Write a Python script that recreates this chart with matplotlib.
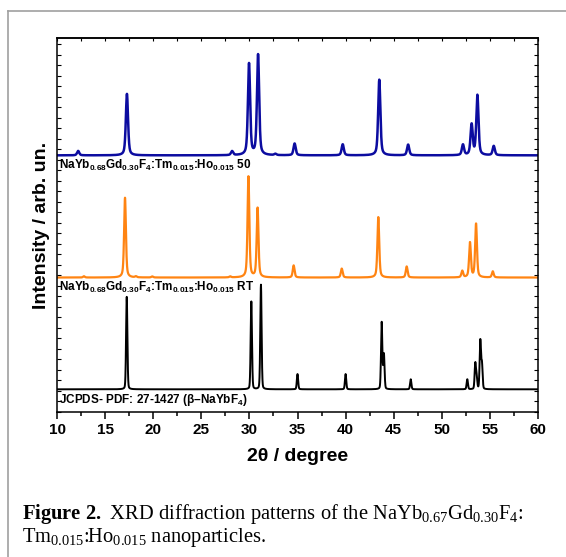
import numpy as np
import matplotlib.pyplot as plt
from matplotlib.lines import Line2D
from matplotlib.ticker import MultipleLocator

plt.rcParams['font.family'] = 'Liberation Sans'
plt.rcParams['font.weight'] = 'bold'
plt.rcParams['mathtext.fontset'] = 'custom'
plt.rcParams['mathtext.rm'] = 'Liberation Serif:normal'
plt.rcParams['mathtext.bf'] = 'Liberation Serif:bold'
plt.rcParams['mathtext.sf'] = 'Liberation Sans:bold'

# peak positions (2theta) and heights (arb. units) for each pattern
ref_pos = [17.25, 30.2, 31.2, 35.0, 40.0, 43.75, 43.98, 46.77, 52.65, 53.48, 53.62, 54.0, 54.17]
ref_int = [8.8, 8.35, 9.95, 1.45, 1.45, 6.35, 3.3, 0.95, 0.95, 2.4, 1.1, 4.6, 2.4]

rt_pos = [12.8, 17.07, 18.2, 19.9, 28.0, 29.9, 30.85, 34.6, 39.6, 43.4, 46.35, 52.13, 52.93, 53.56, 55.3]
rt_int = [0.12, 7.6, 0.1, 0.1, 0.1, 9.6, 6.6, 1.15, 0.85, 5.75, 1.05, 0.62, 3.3, 5.1, 0.58]

s50_pos = [12.2, 17.27, 28.2, 29.96, 30.9, 32.7, 34.7, 39.7, 43.5, 46.5, 52.2, 53.1, 53.7, 55.4]
s50_int = [0.42, 5.85, 0.38, 8.7, 9.55, 0.12, 1.12, 1.05, 7.2, 1.02, 1.0, 2.9, 5.7, 0.88]

offsets = {'ref': 2.16, 'rt': 12.8, 's50': 24.43}

two_theta = np.linspace(10, 60, 6001)


def pseudo_voigt(pos, heights, fwhm, eta):
    y = np.zeros_like(two_theta)
    for p, h in zip(pos, heights):
        d = (two_theta - p) / (fwhm / 2)
        y += h * (eta / (1 + d ** 2) + (1 - eta) * np.exp(-np.log(2) * d ** 2))
    return y


fig = plt.figure(figsize=(5.66, 5.57), dpi=100)
ax = fig.add_axes([57 / 566, 1 - 412 / 557, 481 / 566, 374 / 557])

ax.plot(two_theta, offsets['ref'] + pseudo_voigt(ref_pos, ref_int, 0.16, 0.2),
        color='black', lw=1.4)
ax.plot(two_theta, offsets['rt'] + pseudo_voigt(rt_pos, rt_int, 0.22, 0.5),
        color='#ff8412', lw=1.6)
ax.plot(two_theta, offsets['s50'] + pseudo_voigt(s50_pos, s50_int, 0.27, 0.5),
        color='#0c0ca0', lw=1.8)

lab_kw = dict(fontsize=8.5, fontweight='bold', va='center', ha='left')
ax.text(10.2, 23.46, r'NaYb$_{\mathsf{0.68}}$Gd$_{\mathsf{0.30}}$F$_{\mathsf{4}}$:Tm$_{\mathsf{0.015}}$:Ho$_{\mathsf{0.015}}$ 50', **lab_kw)
ax.text(10.2, 11.84, r'NaYb$_{\mathsf{0.68}}$Gd$_{\mathsf{0.30}}$F$_{\mathsf{4}}$:Tm$_{\mathsf{0.015}}$:Ho$_{\mathsf{0.015}}$ RT', **lab_kw)
ax.text(10.2, 1.14, r'JCPDS- PDF: 27-1427 (β–NaYbF$_{\mathsf{4}}$)', **lab_kw)

ax.set_xlim(10, 60)
ax.set_ylim(0, 35.6)
ax.xaxis.set_major_locator(MultipleLocator(5))
ax.xaxis.set_minor_locator(MultipleLocator(2.5))
ax.yaxis.set_major_locator(MultipleLocator(1))
ax.tick_params(axis='x', which='major', direction='out', length=5, width=1.1,
               labelsize=11, pad=3)
ax.tick_params(axis='x', which='minor', direction='out', length=3, width=1.1)
ax.tick_params(axis='y', which='major', direction='in', length=3, width=0.8,
               left=True, right=True, labelleft=False)

top = ax.secondary_xaxis('top')
top.xaxis.set_major_locator(MultipleLocator(2.5))
top.tick_params(direction='in', length=2.5, width=0.8, labeltop=False)

for sp in list(ax.spines.values()) + list(top.spines.values()):
    sp.set_linewidth(1.1)

ax.set_xlabel('2θ / degree', fontsize=14, fontweight='bold')
ax.xaxis.set_label_coords(0.5, -0.096)
ax.set_ylabel('Intensity / arb. un.', fontsize=14, fontweight='bold')
ax.yaxis.set_label_coords(-0.015, 0.5)

# page frame
fig.add_artist(Line2D([8 / 566, 1], [1 - 11 / 557] * 2, transform=fig.transFigure,
                      color='#a0a0a0', lw=1.2))
fig.add_artist(Line2D([8 / 566] * 2, [0, 1 - 11 / 557], transform=fig.transFigure,
                      color='#a0a0a0', lw=1.2))

cap_kw = dict(fontsize=14.8, family='Liberation Serif', fontweight='normal',
              va='baseline', ha='left')
fig.text(22 / 566, 1 - 519 / 557,
         r'$\mathbf{Figure}$ $\mathbf{2.}$ XRD diffraction patterns of the NaYb$_{\mathrm{0.67}}$Gd$_{\mathrm{0.30}}$F$_{\mathrm{4}}$:',
         **cap_kw)
fig.text(22 / 566, 1 - 542 / 557,
         r'Tm$_{\mathrm{0.015}}$:Ho$_{\mathrm{0.015}}$ nanoparticles.', **cap_kw)

fig.savefig('out.png', dpi=100)
